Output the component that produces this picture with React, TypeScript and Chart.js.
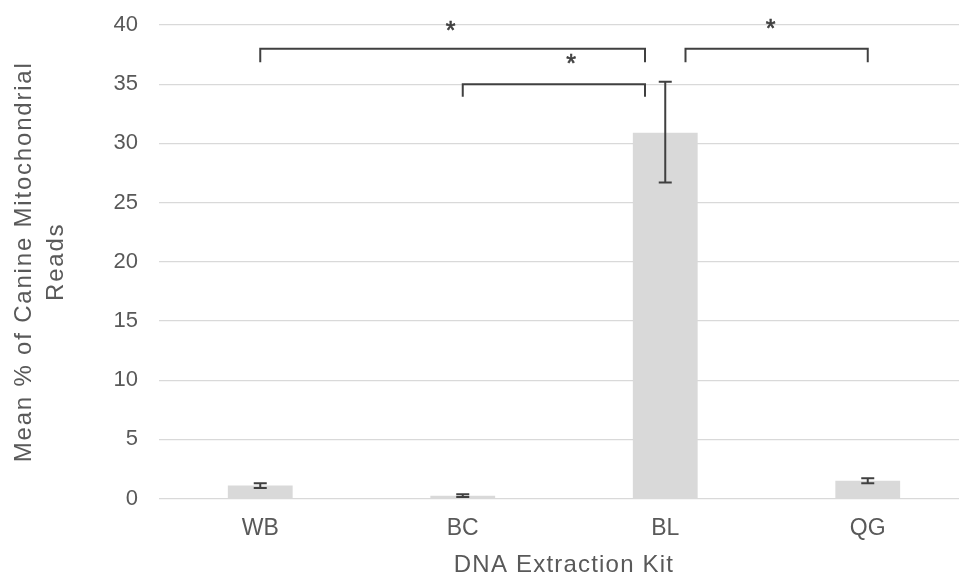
import React, { useEffect, useRef } from "react";
import { Chart, registerables } from "chart.js";

Chart.register(...registerables);

// ---- data ----
const categories = ["WB", "BC", "BL", "QG"];
const meanValues = [1.1, 0.25, 30.9, 1.5];
const errorLow = [0.9, 0.13, 26.7, 1.3];
const errorHigh = [1.3, 0.37, 35.2, 1.72];
const yTickValues = [0, 5, 10, 15, 20, 25, 30, 35, 40];
const yAxisTitle = ["Mean % of Canine Mitochondrial", "Reads"];
const xAxisTitle = "DNA Extraction Kit";

// significance brackets (category index units / value units)
const bracketFrom = [0, 1, 2.1];
const bracketTo = [1.9, 1.9, 3];
const bracketTop = [38.0, 35.0, 38.0];
const bracketEnd = [36.85, 33.95, 36.85];
const starIndex = [0.94, 1.535, 2.52];
const starValue = [40.0, 37.2, 40.15];
const starLabel = ["*", "*", "*"];

const FONT = '"Liberation Sans", Arial, sans-serif';
const TEXT = "#595959";
const DARK = "#404040";
const STAR_SIZE = 25;

const overlayPlugin = {
  id: "overlay",
  afterDatasetsDraw(chart: any) {
    const ctx = chart.ctx;
    const xs = chart.scales.x;
    const ys = chart.scales.y;
    const x0 = xs.getPixelForValue(0);
    const x1 = xs.getPixelForValue(1);
    const px = (v: number) => x0 + v * (x1 - x0);
    const meta = chart.getDatasetMeta(0);
    ctx.save();
    ctx.strokeStyle = DARK;
    ctx.lineWidth = 2;
    // error bars
    meta.data.forEach((bar: any, i: number) => {
      const x = bar.x;
      const yl = ys.getPixelForValue(errorLow[i]);
      const yh = ys.getPixelForValue(errorHigh[i]);
      ctx.beginPath();
      ctx.moveTo(x, yl);
      ctx.lineTo(x, yh);
      ctx.moveTo(x - 6.5, yl);
      ctx.lineTo(x + 6.5, yl);
      ctx.moveTo(x - 6.5, yh);
      ctx.lineTo(x + 6.5, yh);
      ctx.stroke();
    });
    // brackets
    for (let i = 0; i < bracketFrom.length; i++) {
      const a = px(bracketFrom[i]);
      const b = px(bracketTo[i]);
      const t = ys.getPixelForValue(bracketTop[i]);
      const e = ys.getPixelForValue(bracketEnd[i]);
      ctx.beginPath();
      ctx.moveTo(a, e);
      ctx.lineTo(a, t);
      ctx.lineTo(b, t);
      ctx.lineTo(b, e);
      ctx.stroke();
    }
    // stars
    ctx.fillStyle = DARK;
    ctx.strokeStyle = DARK;
    ctx.lineWidth = 0.6;
    ctx.font = `${STAR_SIZE}px ${FONT}`;
    ctx.textAlign = "center";
    ctx.textBaseline = "alphabetic";
    for (let i = 0; i < starIndex.length; i++) {
      const sx = px(starIndex[i]);
      const sy = ys.getPixelForValue(starValue[i]) + 0.57 * STAR_SIZE;
      ctx.fillText(starLabel[i], sx, sy);
      ctx.strokeText(starLabel[i], sx, sy);
    }
    ctx.restore();
  },
  afterDraw(chart: any) {
    const ctx = chart.ctx;
    const area = chart.chartArea;
    ctx.save();
    ctx.fillStyle = TEXT;
    ctx.font = `24px ${FONT}`;
    ctx.textAlign = "center";
    ctx.textBaseline = "middle";
    // y title
    (ctx as any).letterSpacing = "1.8px";
    ctx.save();
    ctx.translate(24, (area.top + area.bottom) / 2);
    ctx.rotate(-Math.PI / 2);
    yAxisTitle.forEach((line, i) => ctx.fillText(line, 0, i * 32));
    ctx.restore();
    // x title
    (ctx as any).letterSpacing = "1.2px";
    ctx.fillText(xAxisTitle, (area.left + area.right) / 2, 565);
    ctx.restore();
  },
};

export default function App() {
  const ref = useRef<HTMLCanvasElement | null>(null);
  useEffect(() => {
    if (!ref.current) return;
    const chart = new Chart(ref.current, {
      type: "bar",
      data: {
        labels: categories,
        datasets: [
          {
            data: meanValues,
            backgroundColor: "#d9d9d9",
            borderWidth: 0,
            barPercentage: 0.32,
            categoryPercentage: 1,
          },
        ],
      },
      options: {
        responsive: false,
        animation: false,
        devicePixelRatio: 1,
        layout: { padding: { left: 0, right: 21, top: 25, bottom: 0 } },
        plugins: { legend: { display: false }, tooltip: { enabled: false } },
        scales: {
          x: {
            grid: { display: false, drawTicks: false },
            border: { display: false },
            ticks: { color: TEXT, font: { family: FONT, size: 23 }, padding: 16 },
            afterFit: (s: any) => {
              s.height = 77.4;
            },
          },
          y: {
            min: 0,
            max: 40,
            grid: {
              color: "#d9d9d9",
              lineWidth: 1.3,
              drawTicks: true,
              tickLength: 21,
              tickColor: "rgba(0,0,0,0)",
            },
            border: { display: false },
            ticks: { color: TEXT, font: { family: FONT, size: 22 }, padding: 0 },
            afterBuildTicks: (s: any) => {
              s.ticks = yTickValues.map((v) => ({ value: v }));
            },
            afterFit: (s: any) => {
              s.width = 159;
            },
          },
        },
      },
      plugins: [overlayPlugin],
    } as any);
    return () => chart.destroy();
  }, []);
  return (
    <div
      style={{
        position: "absolute",
        left: 0,
        top: 0,
        width: 959,
        height: 576,
        overflow: "hidden",
        background: "#fff",
      }}
    >
      <canvas ref={ref} width={990} height={576} style={{ display: "block", width: 990, height: 576 }} />
    </div>
  );
}
